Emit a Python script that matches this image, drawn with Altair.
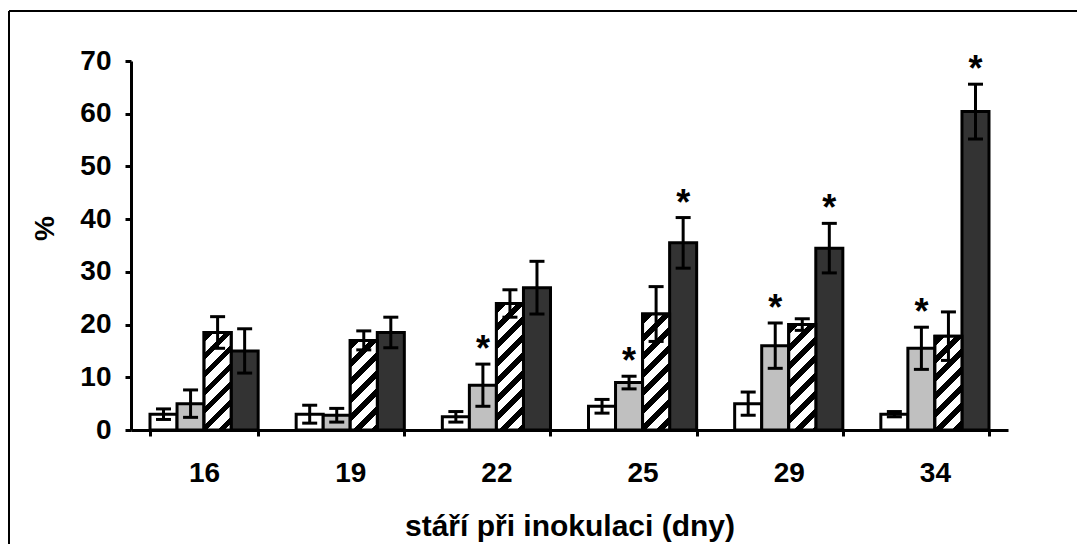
import altair as alt
import pandas as pd

# ---- data ----
categories = ["16", "19", "22", "25", "29", "34"]
series = ["bílá", "šedá", "šrafovaná", "tmavá"]

white = [3.0, 3.0, 2.5, 4.5, 5.0, 3.0]
white_err = [1.0, 1.7, 1.0, 1.3, 2.2, 0.5]
grey = [5.0, 2.8, 8.5, 9.0, 16.0, 15.5]
grey_err = [2.6, 1.3, 4.0, 1.2, 4.3, 4.0]
hatched = [18.5, 17.0, 24.0, 22.0, 20.0, 17.8]
hatched_err = [3.0, 1.8, 2.6, 5.2, 1.1, 4.6]
dark = [15.0, 18.5, 27.0, 35.5, 34.5, 60.4]
dark_err = [4.2, 2.9, 5.0, 4.8, 4.7, 5.2]
star_grey = [False, False, True, True, True, True]
star_dark = [False, False, False, True, True, True]
star_white = [False] * 6
star_hatched = [False] * 6

fills = ["#ffffff", "#c0c0c0", "#ffffff", "#333333"]

rows = []
for s, vals, errs, stars in zip(
    series,
    [white, grey, hatched, dark],
    [white_err, grey_err, hatched_err, dark_err],
    [star_white, star_grey, star_hatched, star_dark],
):
    for c, v, e, st in zip(categories, vals, errs, stars):
        rows.append({"cat": c, "s": s, "v": v, "lo": v - e, "hi": v + e,
                     "star": "*" if st else ""})
df = pd.DataFrame(rows)

# ---- layout ----
W, H = 877, 369
YMAX = 70
P_IN = 0.26
FONT = "Liberation Sans"

xenc = alt.X("cat:N", sort=categories,
             scale=alt.Scale(domain=categories, paddingInner=P_IN, paddingOuter=P_IN / 2),
             axis=alt.Axis(title="stáří při inokulaci (dny)", labelAngle=0,
                           tickBand="extent", titleY=105, titleFontSize=30,
                           titleBaseline="alphabetic", labelPadding=23))
xoff = alt.XOffset("s:N", sort=series, scale=alt.Scale(domain=series, paddingInner=0, paddingOuter=0))
yenc = alt.Y("v:Q", scale=alt.Scale(domain=[0, YMAX], nice=False),
             axis=alt.Axis(title="%", values=list(range(0, 71, 10)), titleX=-86, titleY=167,
                           titleBaseline="middle", labelPadding=14))

base = alt.Chart(df)

bars = base.mark_bar(stroke="black", strokeWidth=3, strokeJoin="miter").encode(
    x=xenc, xOffset=xoff, y=yenc,
    fill=alt.Fill("s:N", scale=alt.Scale(domain=series, range=fills), legend=None),
)

# hatched bars: diagonal stripe gradient, one layer per bar
step = W / len(categories)
barw = step * (1 - P_IN) / len(series)
layers = [bars]
period_px = 18.0
black_frac = 0.42
for c, v in zip(categories, hatched):
    h = v * H / YMAX
    w = barw
    r = w / h
    b = (r + 1) / (r * r + 1)
    a = r * b
    per = period_px / (w + h)
    stops = [alt.GradientStop(color="white", offset=0)]
    t = 0.02
    while t < 1:
        t2 = min(t + black_frac * per, 1)
        stops.append(alt.GradientStop(color="white", offset=t))
        stops.append(alt.GradientStop(color="black", offset=t))
        stops.append(alt.GradientStop(color="black", offset=t2))
        stops.append(alt.GradientStop(color="white", offset=t2))
        t += per
    stops.append(alt.GradientStop(color="white", offset=1))
    grad = alt.Gradient(gradient="linear", stops=stops, x1=0, y1=0, x2=a, y2=b)
    layers.append(
        base.transform_filter((alt.datum.s == series[2]) & (alt.datum.cat == c))
        .mark_bar(stroke="black", strokeWidth=3, fill=grad)
        .encode(x=xenc, xOffset=xoff, y=yenc)
    )

err = base.mark_rule(color="black", strokeWidth=3).encode(
    x=xenc, xOffset=xoff, y="lo:Q", y2="hi:Q")
caps_hi = base.mark_tick(color="black", thickness=3, size=15, opacity=1).encode(
    x=xenc, xOffset=xoff, y="hi:Q")
caps_lo = base.mark_tick(color="black", thickness=3, size=15, opacity=1).encode(
    x=xenc, xOffset=xoff, y="lo:Q")
stars = base.mark_text(font=FONT, fontWeight="bold", fontSize=36, dy=-3,
                       baseline="alphabetic", color="black").encode(
    x=xenc, xOffset=xoff, y="hi:Q", text="star:N")

frame_df = pd.DataFrame({"k": [0]})
frame_top = alt.Chart(frame_df).mark_rule(color="black", strokeWidth=2).encode(
    x=alt.value(-122), x2=alt.value(1000), y=alt.value(-50))
frame_left = alt.Chart(frame_df).mark_rule(color="black", strokeWidth=2).encode(
    x=alt.value(-122), y=alt.value(-50), y2=alt.value(600))

layers += [err, caps_hi, caps_lo, stars, frame_top, frame_left]

chart = alt.layer(*layers).properties(
    width=W, height=H,
    autosize=alt.AutoSizeParams(type="none"),
    padding={"left": 131, "top": 61, "right": 69, "bottom": 114},
    background="white",
).configure_view(stroke=None).configure_axis(
    labelFont=FONT, labelFontWeight="bold", labelFontSize=28, labelColor="black",
    titleFont=FONT, titleFontWeight="bold", titleFontSize=28, titleColor="black",
    domainColor="black", domainWidth=3, tickColor="black", tickWidth=3, tickSize=6,
    grid=False,
)

chart.save("out.html", embed_options={"renderer": "svg", "actions": False})
